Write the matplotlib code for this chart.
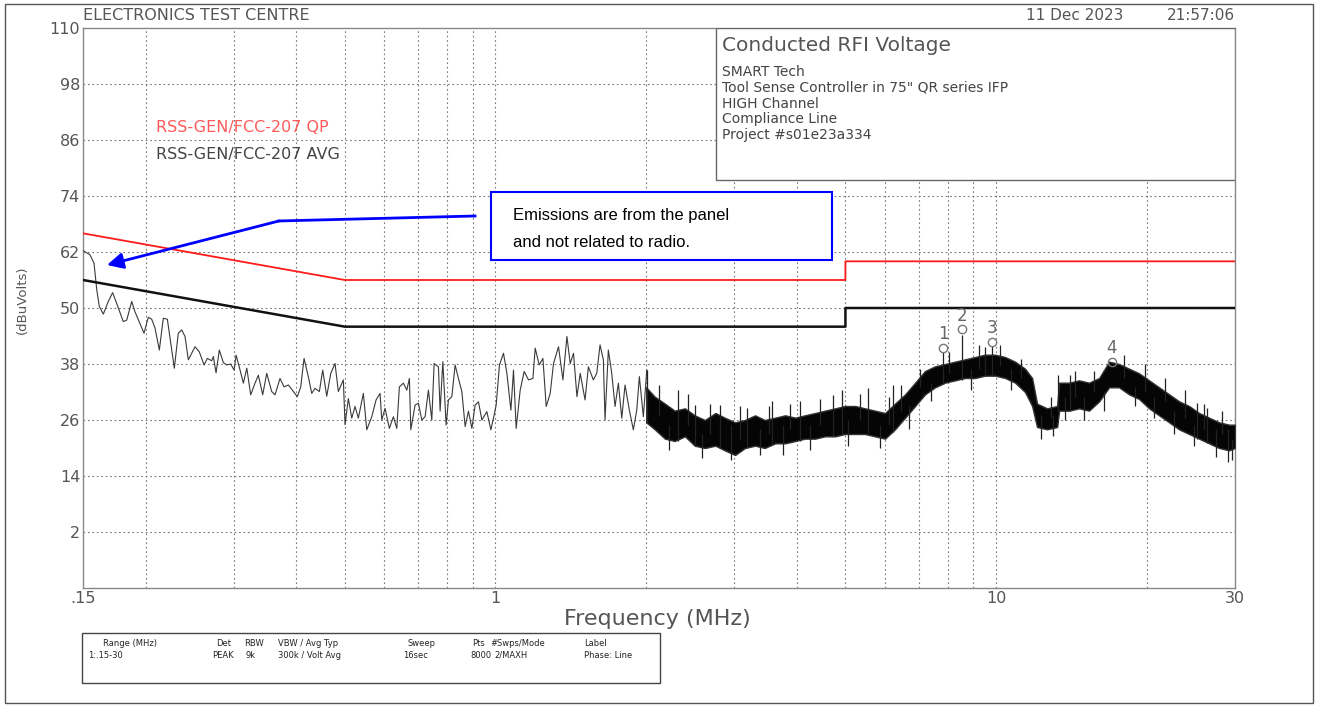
#!/usr/bin/env python3
"""Conducted RFI voltage scan, line phase, with RSS-GEN / FCC-207 limits."""

import matplotlib
matplotlib.use('Agg')
import matplotlib.pyplot as plt
from matplotlib.patches import Rectangle

# limit lines (MHz, dBuV)
qp_freq = [0.15, 0.5, 5.0, 5.0, 30.0]
qp_level = [66, 56, 56, 60, 60]
avg_freq = [0.15, 0.5, 5.0, 5.0, 30.0]
avg_level = [56, 46, 46, 50, 50]

# peak trace, 0.15 - 2 MHz
trace_freq = [
    0.1500, 0.1549, 0.1578, 0.1598, 0.1617, 0.1647, 0.1685, 0.1719, 0.1751, 0.1805,
    0.1834, 0.1877, 0.1905, 0.1986, 0.2025, 0.2057, 0.2089, 0.2131, 0.2170, 0.2211,
    0.2283, 0.2325, 0.2362, 0.2398, 0.2435, 0.2511, 0.2561, 0.2617, 0.2657, 0.2712,
    0.2732, 0.2766, 0.2808, 0.2860, 0.2906, 0.2959, 0.3005, 0.3033, 0.3089, 0.3136,
    0.3186, 0.3244, 0.3309, 0.3360, 0.3428, 0.3492, 0.3573, 0.3628, 0.3712, 0.3781,
    0.3857, 0.3947, 0.4020, 0.4083, 0.4146, 0.4228, 0.4295, 0.4361, 0.4448, 0.4518,
    0.4602, 0.4688, 0.4781, 0.4854, 0.4967, 0.5006, 0.5083, 0.5163, 0.5242, 0.5322,
    0.5446, 0.5532, 0.5661, 0.5774, 0.5881, 0.5927, 0.6018, 0.6138, 0.6253, 0.6351,
    0.6428, 0.6547, 0.6650, 0.6730, 0.6774, 0.6909, 0.7015, 0.7126, 0.7235, 0.7345,
    0.7461, 0.7541, 0.7692, 0.7752, 0.7849, 0.7969, 0.8054, 0.8181, 0.8306, 0.8433,
    0.8566, 0.8698, 0.8831, 0.8970, 0.9107, 0.9247, 0.9393, 0.9611, 0.9790, 0.9940,
    1.0032, 1.0185, 1.0375, 1.0539, 1.0734, 1.0864, 1.0999, 1.1203, 1.1411, 1.1640,
    1.1878, 1.2004, 1.2227, 1.2437, 1.2627, 1.2862, 1.3059, 1.3363, 1.3636, 1.3889,
    1.4102, 1.4318, 1.4544, 1.4766, 1.5097, 1.5329, 1.5684, 1.5932, 1.6175, 1.6422,
    1.6551, 1.6804, 1.7069, 1.7331, 1.7596, 1.7874, 1.8147, 1.8510, 1.8853, 1.9151,
    1.9381, 1.9741, 2.0053,
]
trace_level = [
    62.3, 61.4, 59.6, 53.9, 50.3, 48.7, 51.4, 53.3, 51.0, 47.1,
    47.4, 51.4, 49.2, 44.6, 48.0, 47.6, 45.7, 41.0, 47.8, 47.6,
    37.1, 44.6, 45.3, 43.9, 38.9, 41.7, 40.6, 37.8, 39.2, 38.7,
    39.6, 36.1, 41.0, 38.3, 37.8, 38.0, 36.7, 39.9, 36.7, 33.9,
    37.1, 31.4, 33.9, 35.6, 31.4, 36.0, 32.1, 31.4, 34.9, 33.1,
    33.5, 32.1, 31.0, 33.1, 39.2, 35.3, 31.7, 32.8, 32.1, 36.7,
    31.1, 36.0, 38.1, 32.1, 34.6, 25.0, 30.6, 26.4, 28.9, 26.4,
    31.7, 23.9, 26.7, 30.3, 31.7, 26.0, 28.5, 24.2, 26.7, 24.2,
    33.1, 33.9, 32.4, 34.9, 23.9, 29.2, 29.6, 26.0, 26.7, 32.4,
    26.0, 38.1, 37.4, 27.9, 38.5, 24.9, 30.3, 31.0, 37.8, 34.9,
    32.1, 24.6, 27.9, 24.2, 29.2, 29.9, 26.0, 27.8, 23.9, 27.1,
    29.2, 37.8, 40.3, 36.0, 28.1, 36.7, 24.2, 32.4, 36.4, 34.6,
    34.9, 41.4, 37.8, 39.2, 28.9, 31.7, 38.1, 41.7, 34.6, 43.9,
    38.1, 40.3, 31.0, 36.0, 30.3, 37.4, 34.6, 36.0, 42.1, 38.9,
    26.0, 41.0, 36.0, 28.9, 33.9, 26.4, 33.5, 28.1, 23.9, 28.1,
    35.3, 26.7, 36.7,
]

# 2 - 30 MHz the trace is a dense band: lower / upper envelope
band_freq = [
    2.00, 2.08, 2.18, 2.28, 2.39, 2.50, 2.62, 2.75, 2.87, 3.01,
    3.15, 3.30, 3.45, 3.62, 3.79, 3.97, 4.15, 4.35, 4.55, 4.77,
    4.99, 5.23, 5.47, 5.73, 6.00, 6.28, 6.58, 6.89, 7.21, 7.55,
    7.91, 8.28, 8.67, 9.08, 9.50, 9.95, 10.42, 10.91, 11.42, 11.80,
    12.07, 12.64, 13.24, 13.36, 13.99, 14.64, 15.33, 16.06, 16.81, 17.60,
    18.43, 19.30, 20.21, 21.16, 22.16, 23.20, 24.29, 25.43, 26.63, 27.89,
    29.20, 30.00,
]
band_lo = [
    25.5, 24.0, 22.0, 21.5, 22.5, 20.5, 20.0, 20.5, 19.5, 18.5,
    20.0, 20.5, 20.0, 21.0, 21.0, 21.5, 22.0, 22.0, 22.5, 22.5,
    23.0, 23.0, 23.0, 22.5, 22.0, 24.0, 26.5, 29.0, 31.5, 33.0,
    34.0, 34.5, 35.0, 35.0, 35.5, 35.5, 35.0, 34.0, 32.0, 29.0,
    24.5, 24.0, 24.5, 28.0, 28.0, 28.5, 28.0, 30.0, 33.0, 33.0,
    31.5, 30.5, 28.5, 27.0, 25.5, 24.0, 23.0, 22.0, 21.0, 20.0,
    19.5, 20.0,
]
band_hi = [
    33.0, 31.0, 29.5, 28.0, 28.5, 27.0, 26.0, 27.5, 26.5, 25.5,
    26.0, 27.0, 26.0, 26.5, 27.0, 26.5, 27.0, 27.5, 28.0, 28.5,
    29.0, 29.0, 28.5, 28.0, 27.5, 29.5, 31.5, 34.0, 36.5, 37.5,
    38.0, 38.5, 39.0, 39.5, 40.0, 40.0, 39.5, 38.5, 37.0, 35.0,
    29.5, 28.5, 29.0, 34.0, 34.0, 34.5, 34.0, 35.0, 38.5, 38.0,
    37.0, 36.0, 34.5, 33.0, 31.5, 30.0, 29.0, 27.5, 26.5, 25.5,
    25.0, 25.0,
]

# single spikes sticking out of the band (MHz, from, to dBuV)
spike_freq = [2.005, 2.12, 2.22, 2.32, 2.42, 2.50, 2.58, 2.68, 2.81, 2.95,
              3.08, 3.18, 3.38, 3.52, 3.57, 3.75, 3.88, 4.06, 4.25, 4.45,
              4.72, 4.92, 5.05, 5.35, 5.55, 5.85, 6.10, 6.23, 6.45, 6.70,
              7.05, 7.40, 7.84, 8.05, 8.54, 8.90, 9.25, 9.50, 9.80, 10.2,
              10.7, 11.2, 12.3, 12.9, 13.0, 13.29, 13.7, 14.05, 14.4, 15.0,
              15.7, 16.4, 18.0, 18.9, 19.8, 20.7, 21.7, 22.7, 23.8, 24.8,
              25.2, 26.0, 26.4, 27.5, 28.3, 29.0, 29.6]
spike_base = [25.5, 27.0, 25.0, 21.5, 25.0, 20.5, 23.0, 23.0, 20.0, 25.0,
              22.0, 20.0, 24.0, 23.0, 21.0, 25.0, 24.0, 21.5, 25.0, 25.0,
              22.5, 23.0, 26.0, 26.0, 23.0, 25.0, 25.0, 23.5, 28.0, 29.0,
              33.0, 34.0, 34.0, 36.0, 34.5, 37.0, 37.0, 35.5, 35.5, 37.5,
              37.0, 35.0, 27.0, 26.5, 27.0, 28.0, 31.0, 28.0, 31.0, 31.0,
              32.0, 32.0, 35.0, 33.0, 32.0, 31.0, 30.0, 28.0, 26.5, 25.0,
              22.0, 24.0, 21.0, 24.0, 23.0, 24.0, 22.0]
spike_top = [36.7, 33.5, 19.5, 32.4, 31.5, 29.2, 17.8, 29.5, 29.2, 17.5,
             29.0, 28.5, 18.5, 29.0, 30.0, 18.5, 29.5, 30.0, 19.5, 30.5,
             31.4, 32.4, 20.5, 31.5, 32.9, 20.0, 31.0, 33.5, 33.5, 24.0,
             37.0, 30.0, 40.5, 40.5, 44.3, 32.5, 42.0, 41.7, 41.8, 42.0,
             32.5, 39.0, 22.0, 31.0, 22.5, 35.7, 26.0, 35.6, 36.5, 26.0,
             36.5, 28.0, 40.0, 29.0, 38.0, 26.5, 35.0, 23.0, 32.5, 20.5,
             29.6, 29.5, 28.5, 18.0, 28.0, 17.0, 17.5]

# peak markers
mk_labels = ['1', '2', '3', '4']
mk_freq = [7.84, 8.54, 9.80, 17.0]
mk_level = [41.4, 45.4, 42.8, 38.5]

x_ticks = [0.15, 1, 10, 30]
x_ticklabels = ['.15', '1', '10', '30']
y_ticks = [2, 14, 26, 38, 50, 62, 74, 86, 98, 110]
x_grid = [0.2, 0.3, 0.4, 0.5, 0.6, 0.7, 0.8, 0.9, 1, 2, 3, 4, 5, 6, 7, 8, 9, 10, 20]

info_lines = ['SMART Tech',
              'Tool Sense Controller in 75" QR series IFP',
              'HIGH Channel',
              'Compliance Line',
              'Project #s01e23a334']

table_cols = [
    (0.078, 'Range (MHz)', 0.067, '1:.15-30'),
    (0.164, 'Det', 0.161, 'PEAK'),
    (0.185, 'RBW', 0.186, '9k'),
    (0.211, 'VBW / Avg Typ', 0.211, '300k / Volt Avg'),
    (0.309, 'Sweep', 0.306, '16sec'),
    (0.358, 'Pts', 0.357, '8000'),
    (0.372, '#Swps/Mode', 0.375, '2/MAXH'),
    (0.443, 'Label', 0.443, 'Phase: Line'),
]

GRAY = '#555555'


def main():
    fig = plt.figure(figsize=(13.18, 7.06), dpi=100)
    ax = fig.add_axes([83 / 1318, 1 - 588 / 706, 1152 / 1318, 560 / 706])

    ax.set_xscale('log')
    ax.set_xlim(0.15, 30)
    ax.set_ylim(-10, 110)

    # grid
    for f in x_grid:
        ax.axvline(f, color='#777777', ls=(0, (1.5, 2.5)), lw=0.8, zorder=1)
    for v in y_ticks[:-1]:
        ax.axhline(v, color='#777777', ls=(0, (1.5, 2.5)), lw=0.8, zorder=1)

    # limits
    ax.plot(qp_freq, qp_level, color='#ff1a1a', lw=1.3, zorder=4)
    ax.plot(avg_freq, avg_level, color='#111111', lw=1.8, zorder=4)

    # measured trace
    ax.plot(trace_freq, trace_level, color='#3a3a3a', lw=0.8, zorder=3)
    ax.fill_between(band_freq, band_lo, band_hi, color='#050505', lw=1.0,
                    edgecolor='#333333', zorder=3)
    ax.vlines(spike_freq, spike_base, spike_top, color='#222222', lw=0.9, zorder=3)

    # markers
    ax.plot(mk_freq, mk_level, ls='none', marker='o', ms=6, mfc='none',
            mec='#777777', mew=1.0, zorder=5)
    for lab, f, v in zip(mk_labels, mk_freq, mk_level):
        ax.annotate(lab, (f, v), xytext=(0, 10), textcoords='offset points',
                    ha='center', va='center', fontsize=12, color='#666666', zorder=5)

    # ticks
    ax.set_xticks(x_ticks)
    ax.set_xticklabels(x_ticklabels)
    ax.xaxis.set_minor_locator(plt.NullLocator())
    ax.set_yticks(y_ticks)
    ax.tick_params(length=0, labelsize=11.5, labelcolor=GRAY, pad=2)
    for s in ax.spines.values():
        s.set_color('#888888')
        s.set_linewidth(1.0)

    # legend text
    ax.text(0.0634, 0.8232, 'RSS-GEN/FCC-207 QP', transform=ax.transAxes,
            color='#ff5a5a', fontsize=11.5, va='center', zorder=6)
    ax.text(0.0634, 0.775, 'RSS-GEN/FCC-207 AVG', transform=ax.transAxes,
            color='#444444', fontsize=11.5, va='center', zorder=6)

    # info box
    ax.add_patch(Rectangle((0.5495, 0.7286), 0.4505, 0.2714, transform=ax.transAxes,
                           facecolor='white', edgecolor='#666666', lw=1.0, zorder=6))
    ax.text(0.5547, 0.9696, 'Conducted RFI Voltage', transform=ax.transAxes,
            fontsize=14.5, color=GRAY, va='center', zorder=7)
    for i, line in enumerate(info_lines):
        ax.text(0.5547, 0.9214 - i * 0.0282, line, transform=ax.transAxes,
                fontsize=10, color='#444444', va='center', zorder=7)

    # annotation box with arrow
    ax.add_patch(Rectangle((0.3542, 0.5857), 0.2960, 0.1214, transform=ax.transAxes,
                           facecolor='white', edgecolor='#0000ff', lw=1.5, zorder=6))
    ax.text(0.3733, 0.6643, 'Emissions are from the panel', transform=ax.transAxes,
            fontsize=12, family='Liberation Sans', va='center', zorder=7)
    ax.text(0.3733, 0.6161, 'and not related to radio.', transform=ax.transAxes,
            fontsize=12, family='Liberation Sans', va='center', zorder=7)
    ax.plot([0.3403, 0.1701], [0.6643, 0.6554], transform=ax.transAxes,
            color='#0000ff', lw=2, zorder=6)
    ax.annotate('', xy=(0.0208, 0.5768), xytext=(0.1701, 0.6554),
                xycoords='axes fraction', textcoords='axes fraction',
                arrowprops=dict(arrowstyle='-|>', color='#0000ff', lw=2,
                                mutation_scale=24, shrinkA=0, shrinkB=0),
                zorder=6)

    # page texts
    fig.text(83 / 1318, 1 - 16 / 706, 'ELECTRONICS TEST CENTRE', fontsize=11.5,
             color=GRAY, va='center')
    fig.text(1123 / 1318, 1 - 16 / 706, '11 Dec 2023', fontsize=11,
             color=GRAY, va='center', ha='right')
    fig.text(1235 / 1318, 1 - 16 / 706, '21:57:06', fontsize=11,
             color=GRAY, va='center', ha='right')
    fig.text(22 / 1318, 1 - 300 / 706, '(dBuVolts)', rotation=90, fontsize=9.5,
             color=GRAY, va='center', ha='center')
    fig.text(657 / 1318, 1 - 619 / 706, 'Frequency (MHz)', fontsize=16,
             color=GRAY, va='center', ha='center')

    # settings table under the plot
    fig.add_artist(Rectangle((82 / 1318, 1 - 683 / 706), 578 / 1318, 50 / 706,
                             transform=fig.transFigure, facecolor='none',
                             edgecolor='#444444', lw=1.0))
    for hx, head, vx, val in table_cols:
        fig.text(hx, 1 - 643 / 706, head, fontsize=6, color='#222222', va='center')
        fig.text(vx, 1 - 655 / 706, val, fontsize=6, color='#222222', va='center')

    # page frame
    fig.add_artist(Rectangle((5 / 1318, 3 / 706), 1308 / 1318, 699 / 706,
                             transform=fig.transFigure, facecolor='none',
                             edgecolor='#555555', lw=1.0))

    fig.savefig('out.png', dpi=100)


if __name__ == '__main__':
    main()
